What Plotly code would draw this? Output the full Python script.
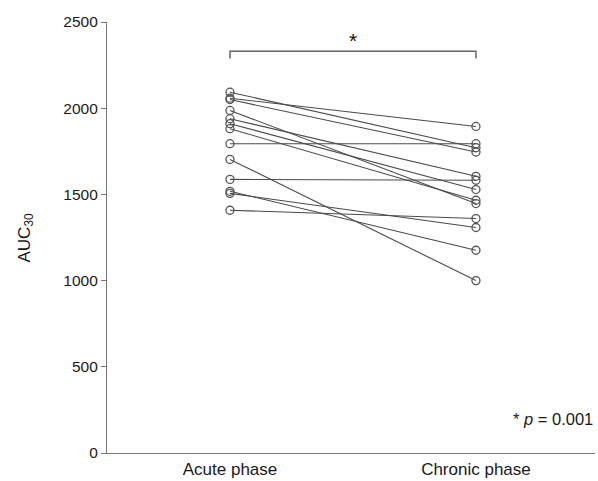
import plotly.graph_objects as go

phases = ["Acute phase", "Chronic phase"]
acute = [2093, 2058, 2050, 1987, 1939, 1910, 1881, 1794, 1703, 1587, 1518, 1506, 1408]
chronic = [1771, 1894, 1746, 1447, 1605, 1528, 1466, 1794, 1000, 1582, 1176, 1308, 1360]
y_ticks = [0, 500, 1000, 1500, 2000, 2500]
sig_label = "*"
p_label = "* <i>p</i> = 0.001"

FONT = "Liberation Sans, Arial, sans-serif"
fig = go.Figure()
for a, c in zip(acute, chronic):
    fig.add_trace(go.Scatter(
        x=[0, 1], y=[a, c], mode="lines+markers",
        line=dict(color="#4a4a4a", width=1.1),
        marker=dict(symbol="circle-open", size=8, color="#555555", line=dict(width=1.3)),
        showlegend=False, hoverinfo="skip"))

# significance bracket
fig.add_shape(type="path", xref="x", yref="y",
              path="M 0,2288 L 0,2331 L 1,2331 L 1,2288",
              line=dict(color="#666666", width=1.5))
fig.add_annotation(x=0.5, y=2393, xref="x", yref="y", text=sig_label, showarrow=False,
                   font=dict(family=FONT, size=21, color="#111111"))
fig.add_annotation(x=1.0, y=0.08, xref="paper", yref="paper", text=p_label, showarrow=False,
                   xanchor="right", yanchor="middle", font=dict(family=FONT, size=16.5, color="#1a1a1a"))
fig.add_annotation(x=-0.168, y=0.5, xref="paper", yref="paper", text="AUC<sub>30</sub>",
                   textangle=-90, showarrow=False, xanchor="center", yanchor="middle",
                   font=dict(family=FONT, size=17, color="#1a1a1a"))

fig.update_layout(
    width=598, height=481,
    margin=dict(l=107, r=3, t=22, b=28),
    plot_bgcolor="white", paper_bgcolor="white",
    font=dict(family=FONT, size=16, color="#1a1a1a"),
)
fig.update_xaxes(range=[-0.5, 1.484], tickvals=[0, 1], ticktext=phases, showgrid=False,
                 zeroline=False, showline=True, linecolor="#777777", linewidth=1.2, ticks="",
                 tickfont=dict(size=17))
fig.update_yaxes(range=[0, 2500], tickvals=y_ticks, showgrid=False, zeroline=False,
                 showline=True, linecolor="#777777", linewidth=1.2, ticks="outside",
                 ticklen=5, tickcolor="#777777", tickfont=dict(size=15.5))

fig.write_html("out.html")
